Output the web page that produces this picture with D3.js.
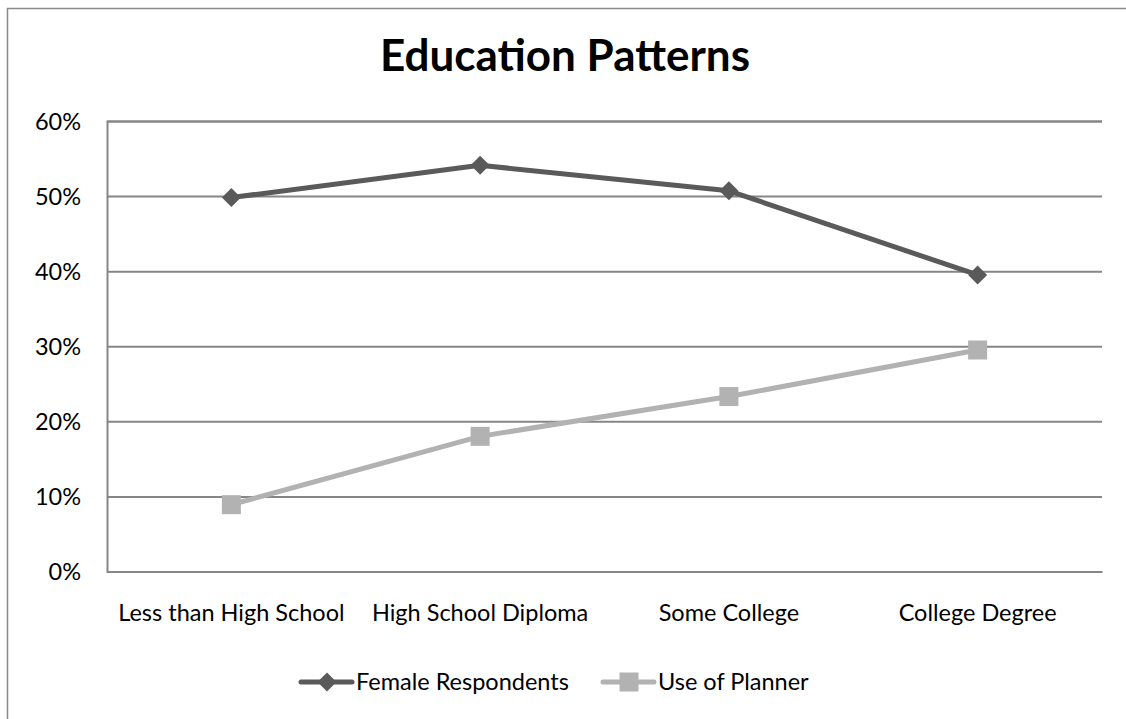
<!DOCTYPE html>
<html>
<head>
<meta charset="utf-8">
<script src="https://cdn.jsdelivr.net/npm/d3@7"></script>
<style>
  html, body { margin: 0; padding: 0; background: #fff; }
  svg { display: block; }
  text { font-family: Lato, "Open Sans", sans-serif; fill: #000; }
</style>
</head>
<body>
<svg id="chart" width="1126" height="719"></svg>
<script>
const title = "Education Patterns";
const categories = ["Less than High School", "High School Diploma", "Some College", "College Degree"];
const femaleRespondents = [0.498, 0.541, 0.507, 0.395];
const useOfPlanner = [0.089, 0.180, 0.233, 0.295];
const seriesNames = ["Female Respondents", "Use of Planner"];
const yTicks = [0, 0.1, 0.2, 0.3, 0.4, 0.5, 0.6];

const series = [
  { name: seriesNames[0], values: femaleRespondents, color: "#5a5a5a", marker: "diamond" },
  { name: seriesNames[1], values: useOfPlanner, color: "#b2b2b2", marker: "square" }
];

const svg = d3.select("#chart");
const W = 1126, H = 719;
const plot = { left: 107, right: 1102, top: 121, bottom: 571.5 };
const labelSize = "23.5px";

// outer border (right and bottom edges fall outside the picture)
svg.append("rect")
  .attr("x", 7.5).attr("y", 8.5)
  .attr("width", W + 40).attr("height", H + 40)
  .attr("fill", "#fff").attr("stroke", "#898989").attr("stroke-width", 1.5);

const x = d3.scaleBand().domain(categories).range([plot.left, plot.right]);
const y = d3.scaleLinear().domain([0, 0.6]).range([plot.bottom, plot.top]);

// title
svg.append("text")
  .attr("x", 565).attr("y", 71)
  .attr("text-anchor", "middle")
  .style("font-size", "44px").style("font-weight", "bold")
  .text(title);

// gridlines + y labels
const yAxis = d3.axisLeft(y).tickValues(yTicks).tickFormat(d3.format(".0%"))
  .tickSize(-(plot.right - plot.left)).tickPadding(26);
const gy = svg.append("g").attr("transform", `translate(${plot.left},0)`).call(yAxis);
gy.select(".domain").attr("stroke", "#868686").attr("stroke-width", 2);
gy.selectAll(".tick line").attr("stroke", "#868686").attr("stroke-width", 2);
gy.selectAll(".tick text").style("font-size", labelSize).attr("fill", "#000").attr("dy", "0.35em");

// x axis labels
const xAxis = d3.axisBottom(x).tickSize(0).tickPadding(33);
const gx = svg.append("g").attr("transform", `translate(0,${plot.bottom})`).call(xAxis);
gx.select(".domain").attr("stroke", "#868686").attr("stroke-width", 2);
gx.selectAll(".tick text").style("font-size", labelSize).attr("fill", "#000");

const line = d3.line().x((d, i) => x(categories[i]) + x.bandwidth() / 2).y(d => y(d));

function drawMarker(g, type, cx, cy, color) {
  if (type === "diamond") {
    g.append("path")
      .attr("d", d3.symbol().type(d3.symbolDiamond2).size(230)())
      .attr("transform", `translate(${cx},${cy})`)
      .attr("fill", color);
  } else {
    g.append("rect")
      .attr("x", cx - 9.5).attr("y", cy - 9.5).attr("width", 19).attr("height", 19)
      .attr("fill", color);
  }
}

series.forEach(s => {
  const g = svg.append("g");
  g.append("path").datum(s.values)
    .attr("d", line).attr("fill", "none")
    .attr("stroke", s.color).attr("stroke-width", 5).attr("stroke-linejoin", "round");
  s.values.forEach((v, i) => drawMarker(g, s.marker, x(categories[i]) + x.bandwidth() / 2, y(v), s.color));
});

// legend
const legendY = 682;
const legendItems = [{ s: series[0], x0: 301 }, { s: series[1], x0: 603 }];
legendItems.forEach(({ s, x0 }) => {
  const g = svg.append("g");
  g.append("line").attr("x1", x0).attr("x2", x0 + 51).attr("y1", legendY).attr("y2", legendY)
    .attr("stroke", s.color).attr("stroke-width", 5).attr("stroke-linecap", "round");
  drawMarker(g, s.marker, x0 + 26, legendY, s.color);
  g.append("text").attr("x", x0 + 55).attr("y", legendY).attr("dy", "0.35em")
    .style("font-size", labelSize).text(s.name);
});
</script>
</body>
</html>
